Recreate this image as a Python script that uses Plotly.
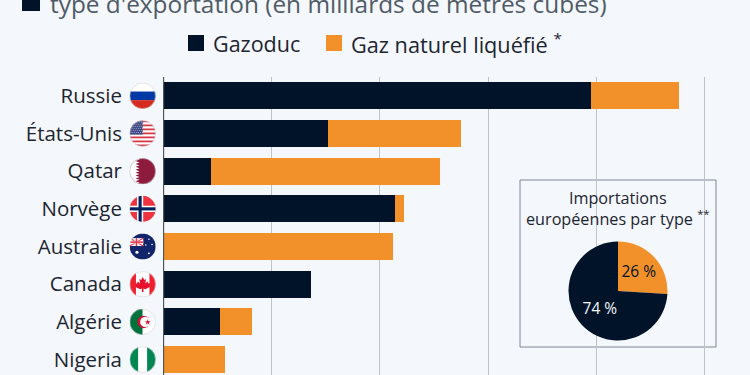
import base64
import plotly.graph_objects as go

countries = ["Russie", "États-Unis", "Qatar", "Norvège", "Australie", "Canada", "Algérie", "Nigeria"]
pipeline = [197.7, 76, 22, 107, 0, 68, 26, 0]
lng = [40.3, 61.5, 106, 4, 106, 0, 15, 28.5]
pie_labels = ["Gaz naturel liquéfié", "Gazoduc"]
pie_values = [26, 74]
pie_text = ["26 %", "74 %"]
x_ticks = [0, 50, 100, 150, 200, 250]

W, H = 750, 375
ML, MT = 163, 77
PW, PH = W - ML, H - MT
NAVY, ORANGE, BG = "#001328", "#f29129", "#f4f7fb"
FONT = "Open Sans"

def fx(px):
    return (px - ML) / PW

def fy(py):
    return 1 - (py - MT) / PH

def circle_svg(body, outline=True):
    stroke = '<circle cx="50" cy="50" r="49" fill="none" stroke="#c9c9c9" stroke-width="2"/>' if outline else ""
    svg = ('<svg xmlns="http://www.w3.org/2000/svg" width="100" height="100" viewBox="0 0 100 100">'
           '<defs><clipPath id="c"><circle cx="50" cy="50" r="50"/></clipPath></defs>'
           f'<g clip-path="url(#c)">{body}</g>{stroke}</svg>')
    return "data:image/svg+xml;base64," + base64.b64encode(svg.encode()).decode()

def rect(x, y, w, h, c):
    return f'<rect x="{x}" y="{y}" width="{w}" height="{h}" fill="{c}"/>'

us = "".join(rect(0, i * 100 / 13, 100, 100 / 13, "#d8374a" if i % 2 == 0 else "#ffffff") for i in range(13))
us += rect(0, 0, 50, 54, "#3f4a86")
us += "".join(f'<circle cx="{5 + c * 8 + (r % 2) * 4}" cy="{6 + r * 8}" r="1.7" fill="#fff"/>' for r in range(6) for c in range(6))
qatar = rect(0, 0, 100, 100, "#8d1b3d")
pts = "0,0 22,0 " + " ".join(f"{38 if i % 2 == 0 else 22},{(i + 1) * 100 / 18:.1f}" for i in range(18)) + " 0,100"
qatar += f'<polygon points="{pts}" fill="#fff"/>'
norway = rect(0, 0, 100, 100, "#ef3340") + rect(28, 0, 24, 100, "#fff") + rect(0, 38, 100, 24, "#fff") + rect(34, 0, 12, 100, "#00205b") + rect(0, 44, 100, 12, "#00205b")
australia = rect(0, 0, 100, 100, "#12256b") + rect(0, 18, 52, 30, "#fff") + '<path d="M0 18L52 48M52 18L0 48" stroke="#e0344a" stroke-width="4"/>' + rect(20, 18, 12, 30, "#fff") + rect(0, 28, 52, 10, "#fff") + rect(23, 18, 6, 30, "#e0344a") + rect(0, 30, 52, 6, "#e0344a")
australia += "".join(f'<circle cx="{a}" cy="{b}" r="{r}" fill="#fff"/>' for a, b, r in [(28, 72, 6), (74, 22, 3), (86, 42, 3), (62, 44, 3), (74, 76, 3.5)])
leaf = '<polygon points="50,22 56,34 63,30 60,47 69,40 72,47 82,46 76,57 79,60 60,69 53,66 53,80 47,80 47,66 40,69 21,60 24,57 18,46 28,47 31,40 40,47 37,30 44,34" fill="#e8112d"/>'
canada = rect(0, 0, 100, 100, "#fff") + rect(0, 0, 24, 100, "#f01f2e") + rect(76, 0, 24, 100, "#f01f2e") + leaf
algeria = (rect(0, 0, 50, 100, "#00703c") + rect(50, 0, 50, 100, "#fff")
           + '<circle cx="54" cy="50" r="24" fill="#d21034"/><circle cx="60" cy="50" r="20" fill="#fff"/>'
           + '<polygon points="66,38 69,47 79,47 71,53 74,62 66,56 58,62 61,53 53,47 63,47" fill="#d21034" transform="translate(10,5) scale(.9)"/>')
flags = [
    circle_svg(rect(0, 0, 100, 33.5, "#fff") + rect(0, 33.5, 100, 33, "#0039a6") + rect(0, 66.5, 100, 33.5, "#d52b1e")),
    circle_svg(us),
    circle_svg(qatar),
    circle_svg(norway, False),
    circle_svg(australia, False),
    circle_svg(canada),
    circle_svg(algeria),
    circle_svg(rect(0, 0, 33, 100, "#008751") + rect(33, 0, 34, 100, "#fff") + rect(67, 0, 33, 100, "#008751")),
]

fig = go.Figure()
fig.add_bar(y=countries, x=pipeline, orientation="h", name="Gazoduc", marker=dict(color=NAVY, line_width=0), width=0.72)
fig.add_bar(y=countries, x=lng, orientation="h", name="Gaz naturel liquéfié", marker=dict(color=ORANGE, line_width=0), width=0.72)

cx, cy, r = 618, 291, 49.5
fig.add_pie(labels=pie_labels, values=pie_values, text=pie_text, textinfo="text", textposition="inside",
            insidetextorientation="horizontal", sort=False, direction="clockwise", rotation=0,
            marker=dict(colors=[ORANGE, NAVY], line_width=0),
            insidetextfont=dict(family=FONT, size=15.5, color=[NAVY, "#f4f7fb"]),
            domain=dict(x=[fx(cx - r), fx(cx + r)], y=[fy(cy + r), fy(cy - r)]), showlegend=False)

shapes = [
    dict(type="rect", xref="paper", yref="paper", x0=fx(505), x1=fx(735), y0=fy(360), y1=fy(172), fillcolor=BG, line_width=0, layer="below"),
    dict(type="rect", xref="paper", yref="paper", x0=fx(520), x1=fx(716), y0=fy(347), y1=fy(180), fillcolor=BG, line=dict(color="#7d8896", width=1), layer="below"),
    dict(type="rect", xref="paper", yref="paper", x0=fx(22), x1=fx(40), y0=fy(11), y1=fy(-5), fillcolor=NAVY, line_width=0),
    dict(type="rect", xref="paper", yref="paper", x0=fx(188), x1=fx(204), y0=fy(51), y1=fy(35), fillcolor=NAVY, line_width=0),
    dict(type="rect", xref="paper", yref="paper", x0=fx(326), x1=fx(342), y0=fy(51), y1=fy(35), fillcolor=ORANGE, line_width=0),
]

def note(text, x, y, size, color, xanchor="left"):
    return dict(text=text, xref="paper", yref="paper", x=fx(x), y=fy(y), xanchor=xanchor, yanchor="middle",
                showarrow=False, align="center", font=dict(family=FONT, size=size, color=color))

annotations = [
    note("type d'exportation (en milliards de mètres cubes)", 48, 3, 24.4, "#4f5b66"),
    note("Gazoduc", 211, 43, 21.5, "#1c2530"),
    note("Gaz naturel liquéfié <sup>*</sup>", 349, 43, 21.7, "#1c2530"),
    note("Importations<br>européennes par type <sup>**</sup>", 618, 208.5, 16.2, "#1c2530", "center"),
]

images = [dict(source=f, xref="paper", yref="y", x=fx(142.7), y=c, sizex=26 / PW, sizey=26 / 37.6,
               xanchor="center", yanchor="middle", sizing="stretch", layer="above")
          for f, c in zip(flags, countries)]

fig.update_layout(
    width=W, height=H, barmode="stack", showlegend=False, paper_bgcolor=BG, plot_bgcolor=BG,
    margin=dict(l=ML, r=0, t=MT, b=0, pad=0), shapes=shapes, annotations=annotations, images=images,
    font=dict(family=FONT),
    xaxis=dict(range=[-0.23, (PW - 0.5) / 108.2 * 50], tickvals=x_ticks, showticklabels=False, showgrid=True,
               gridcolor="#bcc3cb", gridwidth=1, zeroline=False, ticks="", fixedrange=True),
    yaxis=dict(categoryorder="array", categoryarray=countries, range=[7.41, -0.5], showgrid=False, zeroline=False,
               showline=False, ticks="", ticklabelstandoff=40, tickfont=dict(family=FONT, size=20.5, color="#1c2530"),
               fixedrange=True),
)
fig.add_shape(type="line", xref="x", yref="paper", x0=0, x1=0, y0=0, y1=1, line=dict(color="#4a5560", width=1.3))
fig.write_html("out.html", config=dict(displayModeBar=False), post_script="document.body.style.margin='0';")
